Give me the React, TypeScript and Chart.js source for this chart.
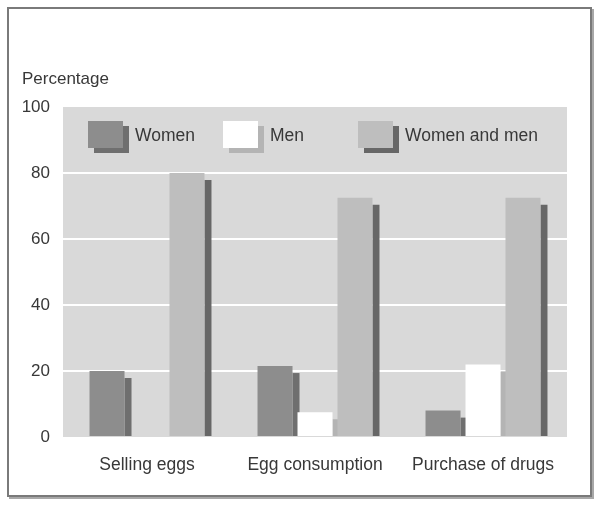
import React, { useEffect, useRef } from "react";
import { Chart, registerables } from "chart.js";

Chart.register(...registerables);

const categories = ["Selling eggs", "Egg consumption", "Purchase of drugs"];
const seriesLabels = ["Women", "Men", "Women and men"];
const women = [20, 21.5, 8];
const men = [0, 7.5, 22];
const womenAndMen = [80, 72.5, 72.5];
const yTicks = [0, 20, 40, 60, 80, 100];
const yTitle = "Percentage";

const fills = ["#8d8d8d", "#ffffff", "#bebebe"];
const shadows = ["#6f6f6f", "#b4b4b4", "#676767"];
const FONT = "'Liberation Sans', Arial, Helvetica, sans-serif";
const TEXT = "#383838";

const decorPlugin = {
  id: "decor",
  beforeDraw(chart: any) {
    const { ctx, chartArea } = chart;
    ctx.save();
    ctx.fillStyle = "#d9d9d9";
    ctx.fillRect(chartArea.left, chartArea.top, chartArea.right - chartArea.left, chartArea.bottom - chartArea.top);
    ctx.restore();
  },
  beforeDatasetsDraw(chart: any) {
    const { ctx } = chart;
    ctx.save();
    chart.data.datasets.forEach((ds: any, di: number) => {
      const meta = chart.getDatasetMeta(di);
      meta.data.forEach((el: any) => {
        const h = el.base - el.y - 7;
        if (h <= 0) return;
        ctx.fillStyle = shadows[di];
        ctx.fillRect(el.x + el.width / 2, el.y + 7, 7, h);
      });
    });
    ctx.restore();
  },
  afterDraw(chart: any) {
    const { ctx } = chart;
    ctx.save();
    ctx.fillStyle = TEXT;
    ctx.font = `17px ${FONT}`;
    ctx.textBaseline = "alphabetic";
    ctx.textAlign = "left";
    ctx.fillText(yTitle, 22, 84);
    const xs = [88, 223, 358];
    chart.data.datasets.forEach((ds: any, di: number) => {
      const x = xs[di];
      const y = 121;
      ctx.fillStyle = shadows[di];
      ctx.fillRect(x + 6, y + 5, 35, 27);
      ctx.fillStyle = fills[di];
      ctx.fillRect(x, y, 35, 27);
      ctx.fillStyle = TEXT;
      ctx.font = `17.5px ${FONT}`;
      ctx.textBaseline = "middle";
      ctx.fillText(ds.label, x + 47, 136);
    });
    ctx.restore();
  },
};

export default function App() {
  const ref = useRef<HTMLCanvasElement | null>(null);
  useEffect(() => {
    if (!ref.current) return;
    const chart = new Chart(ref.current, {
      type: "bar",
      data: {
        labels: categories,
        datasets: [women, men, womenAndMen].map((d, i) => ({
          label: seriesLabels[i],
          data: d,
          backgroundColor: fills[i],
          borderWidth: 0,
          categoryPercentage: 0.714,
          barPercentage: 0.875,
        })),
      },
      options: {
        animation: false,
        responsive: false,
        layout: { padding: { top: 107, right: 33, left: 0, bottom: 0 } },
        plugins: { legend: { display: false }, tooltip: { enabled: false } },
        scales: {
          x: {
            grid: { display: false, drawTicks: false },
            border: { display: false },
            ticks: { color: TEXT, font: { size: 17.5, family: FONT }, padding: 18 },
            afterFit: (s: any) => {
              s.height = 69;
            },
          },
          y: {
            min: 0,
            max: 100,
            afterBuildTicks: (s: any) => {
              s.ticks = yTicks.map((v) => ({ value: v }));
            },
            grid: {
              drawTicks: false,
              lineWidth: 2,
              color: (c: any) => (c.tick && c.tick.value > 0 && c.tick.value < 100 ? "#ffffff" : "rgba(0,0,0,0)"),
            },
            border: { display: false },
            ticks: { color: TEXT, font: { size: 17, family: FONT }, padding: 13 },
            afterFit: (s: any) => {
              s.width = 63;
            },
          },
        },
      },
      plugins: [decorPlugin],
    });
    return () => chart.destroy();
  }, []);

  return (
    <div style={{ position: "absolute", left: 0, top: 0, width: 600, height: 506, background: "#fff" }}>
      <div
        style={{
          position: "absolute",
          left: 7,
          top: 7,
          width: 581,
          height: 486,
          border: "2px solid #7a7a7a",
          boxShadow: "2px 2px 0 #a8a8a8",
        }}
      />
      <canvas ref={ref} width={600} height={506} style={{ position: "absolute", left: 0, top: 0 }} />
    </div>
  );
}
